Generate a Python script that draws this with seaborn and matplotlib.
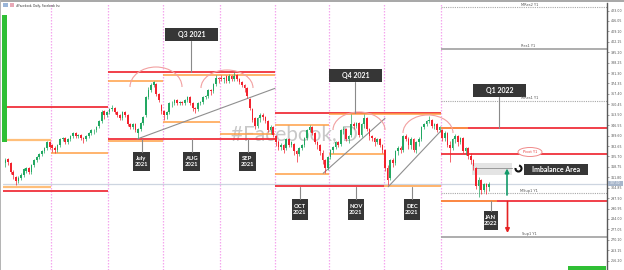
import matplotlib
matplotlib.use("Agg")
import numpy as np
import pandas as pd
import matplotlib.pyplot as plt
from matplotlib.patches import Rectangle, Arc, Ellipse
import seaborn as sns

sns.set_theme(style="white")
plt.rcParams['font.family'] = ['Lato', 'DejaVu Sans']

# ---------------- daily candles (price) ----------------
may_open = [321, 324, 321, 315, 312, 309, 311, 313, 316, 318, 315, 320, 323, 325, 327, 329, 331, 335]
may_close = [323, 322, 315, 313, 309, 311, 313, 317, 318, 315, 320, 323, 325, 327, 329, 331, 335, 332]
may_high = [325, 325, 322, 317, 313, 313, 315, 318, 319, 319, 321, 324, 326, 328, 330, 332, 336, 336]
may_low = [319, 320, 314, 311, 307, 308, 310, 312, 315, 314, 314, 319, 322, 324, 326, 328, 330, 331]

jun_open = [333, 331, 330, 333, 337, 338, 335, 337, 339, 341, 339, 340, 338, 337, 339, 341, 343, 343, 346, 349, 356, 353]
jun_close = [331, 330, 333, 337, 338, 335, 337, 339, 341, 339, 340, 338, 337, 339, 341, 343, 343, 345, 349, 355, 353, 355]
jun_high = [334, 333, 334, 338, 339, 339, 338, 340, 342, 342, 341, 341, 339, 340, 342, 344, 344, 346, 350, 357, 357, 356]
jun_low = [329, 328, 329, 332, 336, 334, 334, 336, 338, 338, 338, 337, 335, 336, 338, 340, 341, 342, 345, 348, 351, 352]

jul_open = [355, 357, 358, 355, 353, 351, 355, 353, 347, 345, 347, 341, 344, 348, 353, 365, 370, 373, 374, 367, 360]
jul_close = [357, 358, 355, 353, 351, 355, 353, 347, 345, 347, 343, 344, 348, 352, 365, 370, 373, 375, 367, 363, 356]
jul_high = [358, 360, 359, 356, 354, 356, 356, 354, 348, 348, 348, 345, 349, 353, 366, 372, 375, 376, 375, 368, 361]
jul_low = [354, 356, 354, 352, 350, 350, 352, 346, 344, 344, 342, 338, 343, 347, 352, 364, 369, 372, 366, 362, 354]

aug_open = [356, 353, 355, 361, 361, 363, 361, 362, 361, 363, 365, 361, 358, 357, 361, 362, 365, 366, 370, 369, 374, 378]
aug_close = [353, 355, 361, 361, 363, 361, 362, 361, 363, 365, 361, 358, 357, 361, 362, 365, 366, 370, 369, 374, 378, 377]
aug_high = [357, 356, 362, 363, 364, 364, 363, 363, 364, 366, 366, 362, 359, 362, 363, 366, 367, 371, 371, 375, 380, 379]
aug_low = [350, 351, 354, 359, 360, 360, 360, 360, 360, 362, 360, 356, 355, 356, 360, 361, 364, 365, 367, 368, 373, 375]

sep_open = [378, 377, 379, 376, 379, 377, 380, 377, 375, 373, 371, 364, 357, 351, 346, 351, 353, 352, 349, 343, 345]
sep_close = [377, 378, 376, 379, 377, 379, 377, 375, 373, 371, 366, 358, 350, 346, 351, 353, 352, 349, 343, 345, 340]
sep_high = [380, 379, 380, 381, 380, 382, 381, 378, 376, 374, 372, 365, 358, 352, 352, 355, 355, 353, 350, 347, 346]
sep_low = [376, 375, 375, 375, 376, 376, 376, 374, 372, 369, 365, 357, 349, 344, 345, 349, 350, 348, 342, 341, 339]

oct_open = [339, 335, 332, 333, 331, 337, 333, 334, 329, 327, 331, 333, 338, 343, 345, 341, 335, 333, 328, 323, 318]
oct_close = [335, 332, 333, 330, 337, 333, 335, 329, 327, 331, 333, 338, 343, 345, 341, 335, 333, 329, 323, 318, 325]
oct_high = [340, 337, 335, 334, 338, 338, 336, 335, 330, 332, 334, 339, 344, 347, 346, 342, 336, 334, 330, 324, 326]
oct_low = [333, 330, 330, 328, 330, 332, 332, 327, 322, 326, 330, 332, 337, 342, 340, 334, 331, 327, 321, 315, 317]

nov_open = [325, 330, 332, 335, 334, 343, 344, 337, 340, 347, 346, 348, 340, 347, 351, 344, 339, 338, 335, 337, 333]
nov_close = [330, 332, 335, 333, 343, 344, 337, 339, 347, 346, 348, 340, 347, 351, 344, 339, 338, 335, 337, 333, 330]
nov_high = [331, 333, 336, 336, 344, 346, 345, 340, 354, 349, 349, 349, 348, 354, 352, 345, 340, 339, 338, 338, 334]
nov_low = [324, 328, 331, 332, 333, 341, 336, 335, 339, 344, 345, 339, 339, 345, 343, 337, 336, 333, 334, 332, 328]

dec_open = [330, 318, 311, 323, 321, 329, 331, 330, 339, 337, 333, 337, 330, 335, 337, 345, 347, 349, 350, 346, 347, 343]
dec_close = [318, 310, 323, 321, 329, 331, 330, 339, 337, 333, 337, 330, 335, 337, 345, 347, 349, 350, 346, 347, 343, 345]
dec_high = [331, 320, 324, 325, 330, 333, 333, 340, 341, 339, 339, 338, 336, 339, 346, 348, 350, 353, 351, 348, 348, 346]
dec_low = [316, 307, 310, 319, 320, 327, 328, 329, 336, 331, 331, 329, 328, 333, 336, 344, 346, 348, 345, 344, 342, 342]

jan_open = [343, 338, 341, 333, 331, 337, 339, 335, 338, 329, 331, 326, 323, 318, 306, 310, 303, 307, 305]
jan_close = [338, 341, 333, 331, 337, 339, 335, 338, 329, 331, 326, 323, 319, 306, 310, 303, 307, 305, 307]
jan_high = [344, 343, 342, 336, 338, 341, 340, 339, 339, 332, 332, 328, 324, 319, 312, 311, 308, 308, 309]
jan_low = [336, 336, 332, 322, 330, 335, 333, 334, 328, 327, 324, 321, 317, 304, 299, 301, 302, 301, 303]

# month boundaries (in trading-day index) and axis ticks
month_bounds = [17.5, 39.5, 60.5, 82.5, 103.5, 124.5, 145.5, 167.5]
price_ticks = [423.00, 416.05, 409.10, 402.15, 395.20, 388.25, 381.30, 374.35, 367.40,
               360.45, 353.50, 346.55, 339.60, 332.65, 325.70, 318.75, 311.80, 304.85,
               297.90, 290.95, 284.00, 277.05, 270.10, 263.15, 256.20]
last_price = 307.30

# horizontal levels: price, start day, end day, kind
lvl_price = [358.7, 336.7, 305.1, 302.9, 328.0,
             382.0, 380.3, 376.0, 348.9, 340.7, 336.3, 337.3,
             354.7, 353.7, 346.7, 313.8, 327.1, 305.7, 305.7,
             344.9, 344.9, 296.3, 296.3, 327.1]
lvl_start = [-0.96, -0.96, -0.96, -0.96, 17.5,
             39.5, 60.5, 39.5, 60.5, 82.5, 39.5, 39.5,
             103.5, 124.5, 103.5, 103.5, 124.5, 103.5, 145.5,
             167.5, 167.5, 167.5, 167.5, 167.5]
lvl_end = [39.5, 17.5, 17.5, 39.5, 39.5,
           103.5, 103.5, 60.5, 82.5, 103.5, 60.5, 103.5,
           167.5, 167.5, 124.5, 124.5, 145.5, 145.5, 167.5,
           231.35, 178.0, 231.35, 189.0, 231.35]
lvl_kind = ['red', 'lorange', 'lorange', 'red', 'orange',
            'red', 'orange', 'orange', 'orange', 'orange', 'orange', 'red',
            'red', 'orange', 'orange', 'orange', 'orange', 'red', 'orange',
            'red', 'orange', 'red', 'orange', 'red']

# yearly pivot levels (from Jan 1)
y1_names = ['MRes2 Y1', 'Res1 Y1', 'MRes1 Y1', 'MSup1 Y1', 'Sup1 Y1']
y1_price = [425.3, 397.3, 363.0, 301.3, 272.3]
y1_style = ['dotted', 'solid', 'dotted', 'dotted', 'solid']

# trend lines (day, price)
trend_id = [1, 1, 2, 2, 3, 3]
trend_day = [50.6, 103.65, 122.2, 145.96, 147.2, 167.77]
trend_px = [337.3, 371.1, 314.5, 351.1, 305.5, 343.3]

opens = may_open + jun_open + jul_open + aug_open + sep_open + oct_open + nov_open + dec_open + jan_open
closes = may_close + jun_close + jul_close + aug_close + sep_close + oct_close + nov_close + dec_close + jan_close
highs = may_high + jun_high + jul_high + aug_high + sep_high + oct_high + nov_high + dec_high + jan_high
lows = may_low + jun_low + jul_low + aug_low + sep_low + oct_low + nov_low + dec_low + jan_low

df = pd.DataFrame({"day": np.arange(len(closes)), "open": opens, "close": closes,
                   "high": highs, "low": lows})
df["up"] = df["close"] >= df["open"]

# ---------------- figure ----------------
W, H = 624, 270
fig = plt.figure(figsize=(W / 100, H / 100), dpi=100)
fig.patch.set_facecolor('white')
ax = fig.add_axes([3 / W, 0, 604 / W, 267 / H])
ov = fig.add_axes([0, 0, 1, 1], zorder=5)
ov.set_xlim(0, W)
ov.set_ylim(H, 0)
ov.axis('off')
ov.patch.set_alpha(0)

ax.set_facecolor('white')
ax.set_xlim(-0.96, 231.35)
ax.set_ylim(250, 428)

GREEN = '#22a862'
RED = '#f2232e'
colors = np.where(df["up"], GREEN, RED)

# month separators
for b in month_bounds:
    ax.axvline(b, color='#f5a6ee', lw=0.9, ls=(0, (1.2, 1.2)), zorder=0.5)

# watermark
ax.text(231, 134, '#Facebook, D', transform=ov.transData, fontsize=15,
        color='#c8c8c8', family=['Lato', 'DejaVu Sans'],
        va='center', ha='left', zorder=0.6, clip_on=False)

# current price line
ax.axhline(last_price, color='#cdd5e0', lw=0.9, zorder=0.7)

# levels
kind_style = {'red': ('#f0303a', 1.3), 'orange': ('#ff9f45', 1.1), 'lorange': ('#ffbf7a', 1.6)}
for p, s, e, k in zip(lvl_price, lvl_start, lvl_end, lvl_kind):
    c, lw = kind_style[k]
    ax.hlines(p, s, e, colors=c, lw=lw, zorder=1.2 if k == 'red' else 1.3)

for nm, p, st in zip(y1_names, y1_price, y1_style):
    if st == 'dotted':
        ax.hlines(p, 167.5, 231.35, colors='#a8a8a8', lw=0.8, linestyles=(0, (1, 1)), zorder=1)
    else:
        ax.hlines(p, 167.5, 231.35, colors='#a0a0a0', lw=1.2, zorder=1)

# imbalance area (behind candles)
ax.add_patch(Rectangle((472, 163), 40, 12, transform=ov.transData, fc='#e4e4e4',
                       ec='none', zorder=1.5, clip_on=False))
ax.plot([476, 512], [168, 168], transform=ov.transData, color='#9a9a9a', lw=0.7,
        zorder=1.6, clip_on=False)

# trend lines (seaborn)
tdf = pd.DataFrame({"id": trend_id, "day": trend_day, "price": trend_px})
sns.lineplot(data=tdf, x="day", y="price", units="id", estimator=None,
             color='#8f8f8f', lw=0.8, ax=ax, zorder=1.8, legend=False)

# candles
ax.vlines(df["day"], df["low"], df["high"], colors=colors, lw=0.5, zorder=3)
body = (df["close"] - df["open"]).to_numpy(dtype=float)
body = np.where(np.abs(body) < 0.4, 0.4, body)
ax.bar(df["day"], body, bottom=df["open"], width=0.62, color=colors,
       edgecolor='none', zorder=3.1)

ax.set_xlabel('')
ax.set_ylabel('')
ax.set_xticks([])
ax.yaxis.tick_right()
ax.set_yticks(price_ticks)
ax.set_yticklabels([f"{t:.2f}" for t in price_ticks], family='DejaVu Sans')
ax.tick_params(axis='y', labelsize=2.3, pad=1.2, length=1.5, width=0.4,
               colors='#555555', right=True, left=False)
for sp in ['left', 'top', 'bottom']:
    ax.spines[sp].set_visible(False)
ax.spines['right'].set_color('#5a5a5a')
ax.spines['right'].set_linewidth(1.0)

# ---------------- overlay annotations ----------------
ov.add_patch(Rectangle((0, 0), W, 2.3, color='#a9a9a9', lw=0))
ov.add_patch(Rectangle((0, 0), 1.3, H, color='#b5b5b5', lw=0))
ov.add_patch(Rectangle((1.5, 15), 5, 127, color='#2fbf35', lw=0))
ov.add_patch(Rectangle((568, 265.5), 38, 4.5, color='#2fbf35', lw=0))
ov.add_patch(Rectangle((3, 3.4), 4.6, 4, color='#9bb6d9', lw=0))
ov.add_patch(Rectangle((9.5, 3.4), 4.6, 4, color='#e8a8b6', lw=0))
ov.text(16, 5.5, '#Facebook, Daily, Facebook Inc', fontsize=2.1, color='#333333',
        va='center', ha='left', family='DejaVu Sans')

# current price tag
ov.add_patch(Rectangle((608, 180.6), 15, 5, color='#a7b6cb', lw=0))
ov.text(615.5, 183.1, f"{last_price:.2f}", fontsize=2.2, color='white', ha='center',
        va='center', family='DejaVu Sans')

# top arcs
for cx, cy, w, h in [(156, 87, 52, 40), (227, 88, 52, 36), (359, 130, 52, 36), (428, 133, 50, 36)]:
    ov.add_patch(Arc((cx, cy), w, h, theta1=180, theta2=360, color='#f2a0a0', lw=0.8))

def connector(x, y0, y1):
    ov.plot([x, x], [y0, y1], color='#8a8a8a', lw=0.8)

def box(x0, y0, x1, y1, text, fs):
    ov.add_patch(Rectangle((x0, y0), x1 - x0, y1 - y0, color='#363636', lw=0))
    ov.text((x0 + x1) / 2, (y0 + y1) / 2 + 0.3, text, color='white', fontsize=fs,
            fontweight='bold', ha='center', va='center', linespacing=1.25)

connector(191, 41, 72)
box(165, 27.7, 218, 41, 'Q3 2021', 5.0)
connector(355, 81.7, 113)
box(329, 69, 382, 81.7, 'Q4 2021', 5.0)
connector(499, 96.7, 128)
box(473, 84, 526, 96.7, 'Q1 2022', 5.0)

connector(141.5, 139, 152)
box(133, 152, 150, 171, 'July\n2021', 4.2)
connector(191.5, 139, 152)
box(183, 152, 200, 171, 'AUG\n2021', 4.2)
connector(247.5, 139, 152)
box(239, 152, 256, 171, 'SEP\n2021', 4.2)
connector(300, 186.5, 199)
box(292, 199, 308, 220, 'OCT\n2021', 4.2)
connector(356, 186.5, 199)
box(348, 199, 364, 220, 'NOV\n2021', 4.2)
connector(412, 186.5, 199)
box(404, 199, 420, 220, 'DEC\n2021', 4.2)
connector(491, 200.5, 211)
box(484, 211, 498, 230, 'JAN\n2022', 4.2)

# imbalance label and arrows
box(524, 164, 588, 174.5, 'Imbalance Area', 5.0)
ov.add_patch(Arc((518.5, 168.5), 6, 6, theta1=-80, theta2=190, color='#111111', lw=1.5))
ov.annotate('', xy=(507, 168.5), xytext=(507, 195),
            arrowprops=dict(arrowstyle='-|>', color='#139a6a', lw=1.2, mutation_scale=6,
                            shrinkA=0, shrinkB=0))
ov.annotate('', xy=(507.5, 233), xytext=(507.5, 201.5),
            arrowprops=dict(arrowstyle='-|>', color='#e52222', lw=1.2, mutation_scale=6,
                            shrinkA=0, shrinkB=0))

# Y1 labels
lab_pos = {'MRes2 Y1': (530, 5), 'Res1 Y1': (528, 46.3), 'MRes1 Y1': (530, 98.3),
           'MSup1 Y1': (529, 191.3), 'Sup1 Y1': (529, 234)}
for nm in y1_names:
    x, y = lab_pos[nm]
    ov.text(x, y, nm, fontsize=2.6, color='#555555', ha='center', va='center',
            family='DejaVu Sans')
ov.add_patch(Ellipse((530, 152), 24, 9, fc='white', ec='#f08a8a', lw=0.7))
ov.text(530, 152.2, 'Pivot Y1', fontsize=2.6, color='#e84040', ha='center', va='center',
        family='DejaVu Sans')

fig.savefig('out.png', dpi=100, facecolor='white')
